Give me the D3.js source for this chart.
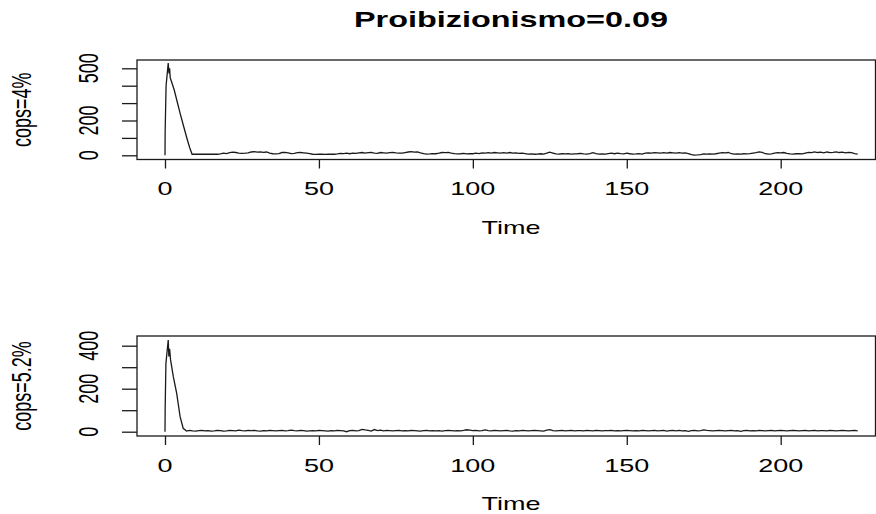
<!DOCTYPE html>
<html>
<head>
<meta charset="utf-8">
<script src="https://d3js.org/d3.v7.min.js"></script>
<style>
  body { margin: 0; background: #fff; }
  text { font-family: "Liberation Sans", Arial, sans-serif; fill: #000; }
</style>
<script>

// panel titles / tick labels
var mainTitle = 'Proibizionismo=0.09';
var panelNames = ['cops=4%', 'cops=5.2%'];
var xTicks = [0, 50, 100, 150, 200];
var topYTicks = [0, 100, 200, 300, 400, 500];
var topYLabels = [0, 200, 500];
var botYTicks = [0, 100, 200, 300, 400];
var botYLabels = [0, 200, 400];

// cops=4% : first spike (irregular times) then yearly series from t=9
var topSpikeT = [0, 0.05, 0.35, 1.05, 1.3, 1.5, 1.7, 2, 3, 4, 5, 6, 7, 8, 8.8];
var topSpikeV = [0, 135, 400, 530, 470, 500, 445, 430, 375, 305, 235, 170, 105, 45, 6];
var topTailStart = 9;
var topTail = [
  6,6,6,6,6,6,6,6,6,
  8,12,10,15,18,16,13,11,12,14,
  19,21,18,20,17,19,12,9,8,10,
  16,17,14,10,11,15,16,14,12,9,
  6,5,7,6,5,6,7,6,8,11,
  10,12,9,13,11,14,16,12,15,17,
  13,11,16,14,12,15,17,14,12,13,
  16,19,21,18,20,14,9,7,8,10,
  9,12,16,15,17,13,10,8,9,11,
  8,10,9,12,10,14,13,15,12,16,
  14,12,15,13,16,12,14,11,13,10,
  7,8,6,7,9,7,12,18,13,8,
  7,9,8,10,7,8,9,11,8,7,
  10,15,9,7,8,7,10,12,9,13,
  10,8,12,9,7,8,10,7,12,14,
  13,15,14,12,15,13,16,14,12,15,
  13,14,10,4,1,2,4,8,7,8,
  7,9,12,15,14,16,9,7,8,7,
  9,8,10,13,16,20,17,9,7,8,
  12,15,14,16,11,8,7,9,10,8,
  13,17,15,20,16,18,14,19,15,17,
  20,16,18,14,17,15,10,7
];

// cops=5.2%
var botSpikeT = [0, 0.05, 0.3, 1.05, 1.25, 1.5, 1.8, 2.7, 3.8, 4.9, 5.9, 7];
var botSpikeV = [0, 105, 318, 426, 350, 385, 335, 256, 178, 70, 16, 3];
var botTailStart = 8;
var botTail = [
  6,4,3,5,6,4,5,3,4,6,
  5,3,4,6,5,4,7,5,4,6,
  5,6,4,3,5,4,6,5,4,5,
  6,4,5,7,5,4,6,5,3,4,
  5,4,6,5,4,3,5,4,6,5,
  4,0,5,6,4,5,11,8,6,3,
  10,5,7,4,6,5,4,5,6,4,
  5,4,6,5,4,3,5,6,4,5,
  4,5,3,5,6,5,4,5,4,6,
  9,7,5,6,4,5,8,5,4,6,
  5,4,5,6,4,3,5,4,6,5,
  4,5,6,5,4,3,7,10,5,4,
  5,6,4,5,6,4,5,5,4,6,
  5,4,6,5,4,5,5,6,4,5,
  4,5,6,5,4,5,4,6,5,4,
  5,6,4,5,6,3,5,6,4,6,
  4,5,2,5,6,4,5,8,6,5,
  4,5,6,5,4,5,6,4,5,2,
  5,6,4,5,4,6,5,4,5,6,
  4,5,6,5,4,5,6,5,4,5,
  6,4,5,6,4,5,5,4,6,5,
  4,5,6,5,4,5,6,4
];

function toPoints(ts, vs, start, tail) {
  var pts = ts.map(function (t, i) { return [t, vs[i]]; });
  tail.forEach(function (v, i) { pts.push([start + i, v]); });
  return pts;
}

// the picture is stretched: wide glyphs
var SX = 1.8, SY = 1.2, FS = 15;

function label(svg, str, x, y, size, rotate, bold) {
  svg.append('text')
     .text(str)
     .attr('transform', 'translate(' + x + ',' + y + ') scale(' + SX + ',' + SY + ')' + (rotate ? ' rotate(-90)' : ''))
     .attr('text-anchor', 'middle')
     .attr('font-size', size)
     .attr('font-weight', bold ? 'bold' : 'normal');
}

function render() {
  var W = 876, H = 514;
  var box = { left: 137, right: 875.5 };

  var svg = d3.select('#chartHere').append('svg')
      .attr('width', W).attr('height', H);

  var x = d3.scaleLinear().domain([0, 200]).range([165, 780.7]);

  var panels = [
    { top: 60, bottom: 159.5, y: d3.scaleLinear().domain([0, 500]).range([155.3, 68.3]),
      ticks: topYTicks, labels: topYLabels, name: panelNames[0],
      pts: toPoints(topSpikeT, topSpikeV, topTailStart, topTail),
      xlabY: 195, timeY: 234 },
    { top: 336, bottom: 436, y: d3.scaleLinear().domain([0, 400]).range([431.7, 345.7]),
      ticks: botYTicks, labels: botYLabels, name: panelNames[1],
      pts: toPoints(botSpikeT, botSpikeV, botTailStart, botTail),
      xlabY: 471.5, timeY: 510 }
  ];

  label(svg, mainTitle, 511, 27, FS * 1.2, false, true);

  panels.forEach(function (p) {
    var line = d3.line()
        .x(function (d) { return x(d[0]); })
        .y(function (d) { return p.y(d[1]); });

    svg.append('path')
       .datum(p.pts)
       .attr('d', line)
       .attr('fill', 'none')
       .attr('stroke', '#1a1a1a')
       .attr('stroke-width', 1.3);

    svg.append('rect')
       .attr('x', box.left).attr('y', p.top)
       .attr('width', box.right - box.left).attr('height', p.bottom - p.top)
       .attr('fill', 'none').attr('stroke', '#1a1a1a').attr('stroke-width', 1.3);

    var yAxis = svg.append('g')
       .attr('transform', 'translate(' + box.left + ',0)')
       .call(d3.axisLeft(p.y).tickValues(p.ticks).tickSize(15).tickFormat(''));
    var xAxis = svg.append('g')
       .attr('transform', 'translate(0,' + p.bottom + ')')
       .call(d3.axisBottom(x).tickValues(xTicks).tickSize(9).tickFormat(''));
    [yAxis, xAxis].forEach(function (a) {
      a.select('.domain').remove();
      a.selectAll('.tick line').attr('stroke', '#1a1a1a').attr('stroke-width', 1.3);
    });

    p.labels.forEach(function (v) { label(svg, v, 98, p.y(v), FS, true, false); });
    xTicks.forEach(function (v) { label(svg, v, x(v), p.xlabY, FS, false, false); });

    label(svg, 'Time', 511, p.timeY, FS, false, false);
    label(svg, p.name, 31, (p.top + p.bottom) / 2, FS, true, false);
  });
}
</script>
</head>
<body onload="render()">
<div id="chartHere"></div>
</body>
</html>
